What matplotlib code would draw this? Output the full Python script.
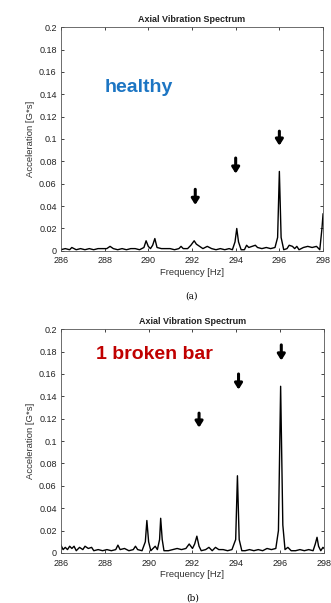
import matplotlib
matplotlib.use("Agg")
import matplotlib.pyplot as plt

# healthy motor spectrum
freq_a = [286.0, 286.2, 286.4, 286.5, 286.7, 286.9, 287.1, 287.3, 287.5, 287.7,
          287.9, 288.1, 288.25, 288.4, 288.6, 288.8, 289.0, 289.2, 289.4, 289.6,
          289.8, 289.9, 290.0, 290.1, 290.2, 290.3, 290.4, 290.6, 290.8, 291.0,
          291.2, 291.4, 291.5, 291.6, 291.8, 291.95, 292.1, 292.2, 292.35, 292.5,
          292.7, 292.9, 293.1, 293.3, 293.5, 293.7, 293.85, 293.97, 294.05, 294.13,
          294.25, 294.4, 294.5, 294.6, 294.75, 294.9, 295.0, 295.2, 295.4, 295.6,
          295.8, 295.92, 296.0, 296.08, 296.2, 296.35, 296.45, 296.6, 296.7, 296.8,
          296.9, 297.1, 297.3, 297.5, 297.7, 297.85, 297.95, 298.0]
acc_a = [0.001, 0.002, 0.001, 0.003, 0.001, 0.002, 0.001, 0.002, 0.001, 0.002,
         0.002, 0.002, 0.004, 0.002, 0.001, 0.002, 0.001, 0.002, 0.002, 0.001,
         0.003, 0.009, 0.004, 0.002, 0.005, 0.011, 0.003, 0.002, 0.002, 0.002,
         0.001, 0.002, 0.004, 0.002, 0.002, 0.005, 0.009, 0.006, 0.004, 0.002,
         0.004, 0.002, 0.001, 0.002, 0.001, 0.002, 0.001, 0.008, 0.020, 0.008,
         0.001, 0.001, 0.005, 0.003, 0.004, 0.005, 0.003, 0.002, 0.003, 0.002,
         0.003, 0.012, 0.071, 0.012, 0.001, 0.002, 0.005, 0.004, 0.002, 0.004,
         0.001, 0.003, 0.004, 0.003, 0.004, 0.001, 0.020, 0.033]

# one broken bar spectrum
freq_b = [286.0, 286.1, 286.2, 286.3, 286.4, 286.5, 286.6, 286.7, 286.85, 287.0,
          287.1, 287.25, 287.4, 287.5, 287.7, 287.9, 288.1, 288.3, 288.5, 288.6,
          288.7, 288.9, 289.1, 289.3, 289.4, 289.5, 289.7, 289.85, 289.92, 290.0,
          290.1, 290.2, 290.3, 290.4, 290.5, 290.55, 290.62, 290.7, 290.9, 291.1,
          291.3, 291.5, 291.7, 291.85, 292.0, 292.1, 292.2, 292.3, 292.4, 292.6,
          292.75, 292.9, 293.05, 293.2, 293.4, 293.6, 293.8, 293.97, 294.05, 294.13,
          294.25, 294.4, 294.6, 294.8, 295.0, 295.2, 295.4, 295.6, 295.8, 295.92,
          296.02, 296.12, 296.22, 296.35, 296.5, 296.7, 296.9, 297.1, 297.3, 297.5,
          297.6, 297.68, 297.75, 297.85, 297.95, 298.0]
acc_b = [0.007, 0.003, 0.005, 0.003, 0.006, 0.004, 0.006, 0.002, 0.005, 0.003,
         0.006, 0.004, 0.005, 0.002, 0.003, 0.002, 0.003, 0.002, 0.003, 0.007,
         0.003, 0.004, 0.002, 0.003, 0.006, 0.003, 0.002, 0.010, 0.029, 0.010,
         0.002, 0.004, 0.006, 0.003, 0.012, 0.031, 0.012, 0.002, 0.002, 0.003,
         0.004, 0.003, 0.004, 0.008, 0.004, 0.008, 0.015, 0.006, 0.002, 0.003,
         0.005, 0.002, 0.005, 0.003, 0.003, 0.002, 0.003, 0.012, 0.069, 0.012,
         0.002, 0.002, 0.003, 0.002, 0.003, 0.002, 0.004, 0.003, 0.004, 0.020,
         0.149, 0.025, 0.003, 0.005, 0.002, 0.002, 0.003, 0.002, 0.003, 0.002,
         0.008, 0.014, 0.006, 0.002, 0.005, 0.004]

# arrows: x, top y, bottom y (data units)
arrows_a = [(292.15, 0.055, 0.041), (294.0, 0.083, 0.069), (296.0, 0.107, 0.094)]
arrows_b = [(292.3, 0.125, 0.112), (294.1, 0.160, 0.146), (296.05, 0.186, 0.172)]

xticks = [286, 288, 290, 292, 294, 296, 298]
yticks = [0, 0.02, 0.04, 0.06, 0.08, 0.1, 0.12, 0.14, 0.16, 0.18, 0.2]
ytick_labels = ["0", "0.02", "0.04", "0.06", "0.08", "0.1", "0.12", "0.14", "0.16", "0.18", "0.2"]

plt.rcParams['font.family'] = ['Liberation Sans', 'DejaVu Sans']

fig = plt.figure(figsize=(3.31, 6.03), dpi=100)
ax_a = fig.add_axes([0.184, 0.584, 0.792, 0.371])
ax_b = fig.add_axes([0.184, 0.083, 0.795, 0.371])


def draw_panel(ax, f, a, arrows, label, label_xy, label_color, tag):
    ax.plot(f, a, color='black', lw=1.0)
    ax.set_xlim(286, 298)
    ax.set_ylim(0, 0.2)
    ax.set_xticks(xticks)
    ax.set_yticks(yticks)
    ax.set_yticklabels(ytick_labels)
    ax.tick_params(direction='in', top=True, right=True, length=2.5, width=0.6,
                   labelsize=6.5, colors='#222222')
    ax.tick_params(axis='x', pad=4)
    ax.tick_params(axis='y', pad=3)
    for s in ax.spines.values():
        s.set_linewidth(0.6)
        s.set_color('#555555')
    ax.set_title("Axial Vibration Spectrum", fontsize=6.5, pad=4, color='#222222',
                 fontweight='bold')
    ax.set_xlabel("Frequency [Hz]", fontsize=6.8, labelpad=2, color='#333333')
    ax.set_ylabel("Acceleration [G*s]", fontsize=6.8, labelpad=3, color='#333333')
    for x, y0, y1 in arrows:
        ax.annotate("", xy=(x, y1), xytext=(x, y0),
                    arrowprops=dict(arrowstyle="-|>,head_length=0.35,head_width=0.22",
                                    color='black', lw=2.2, shrinkA=0, shrinkB=0))
    ax.text(label_xy[0], label_xy[1], label, color=label_color, fontsize=14,
            fontweight='bold', va='center', ha='left')
    ax.text(0.5, -0.2, tag, transform=ax.transAxes, ha='center', va='center',
            fontsize=6.5, family='DejaVu Serif')


draw_panel(ax_a, freq_a, acc_a, arrows_a, "healthy", (288.0, 0.146), '#1c75c3', "(a)")
draw_panel(ax_b, freq_b, acc_b, arrows_b, "1 broken bar", (287.6, 0.177), '#c00000', "(b)")

fig.savefig("out.png", dpi=100)
